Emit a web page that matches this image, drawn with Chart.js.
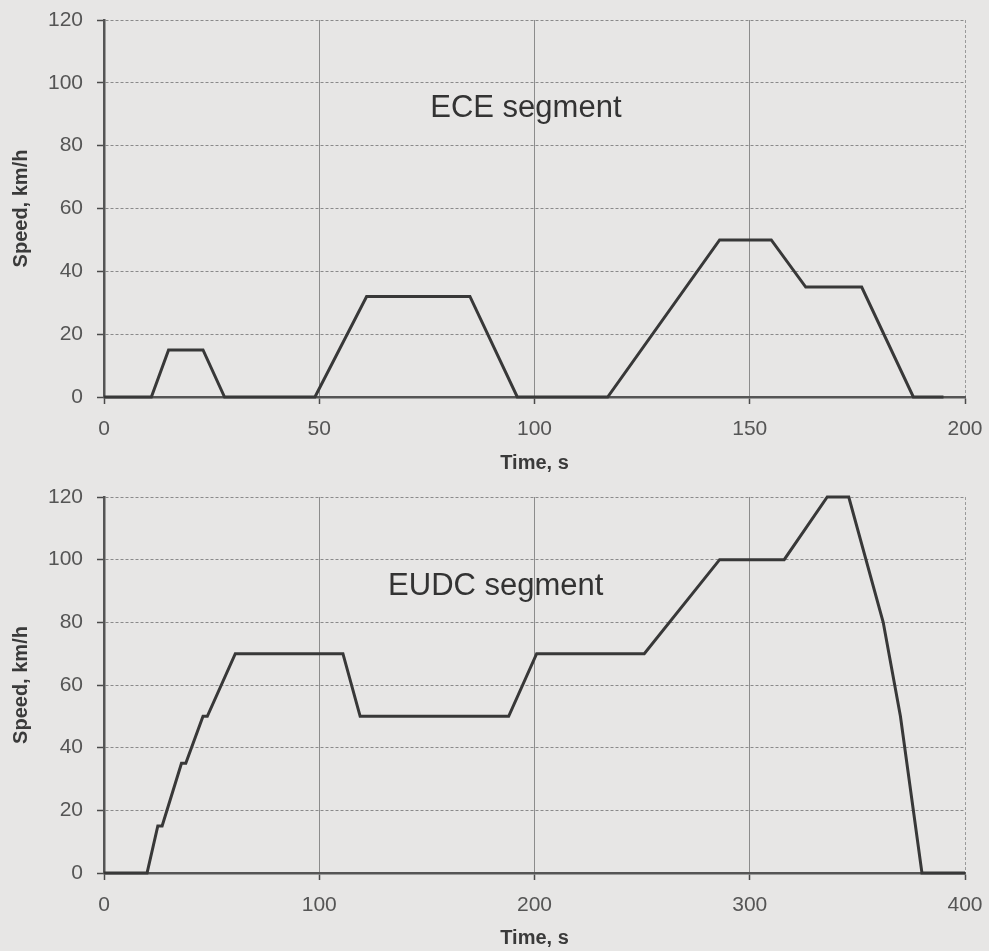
<!DOCTYPE html>
<html>
<head>
<meta charset="utf-8">
<script src="https://cdn.jsdelivr.net/npm/chart.js@4.4.1/dist/chart.umd.min.js"></script>
<style>
  html, body { margin: 0; padding: 0; background: #e7e6e5; }
  body { width: 989px; height: 951px; position: relative; overflow: hidden; }
  .panel { position: absolute; left: 0; width: 989px; }
  #p1 { top: 0; height: 475px; }
  #p2 { top: 475px; height: 476px; }
</style>
</head>
<body>
<div class="panel" id="p1"><canvas id="ece"></canvas></div>
<div class="panel" id="p2"><canvas id="eudc"></canvas></div>
<script>
// ECE urban driving segment: time (s) and speed (km/h) at each break point
const eceTime  = [0, 11, 15, 23, 28, 49, 61, 85, 96, 117, 143, 155, 163, 176, 188, 195];
const eceSpeed = [0,  0, 15, 15,  0,  0, 32, 32,  0,   0,  50,  50,  35,  35,   0,   0];

// EUDC extra-urban segment
const eudcTime  = [0, 20, 25, 27, 36, 38, 46, 48, 61, 111, 119, 188, 201, 251, 286, 316, 336, 346, 362, 370, 380, 400];
const eudcSpeed = [0,  0, 15, 15, 35, 35, 50, 50, 70,  70,  50,  50,  70,  70, 100, 100, 120, 120,  80,  50,   0,   0];

// Axis ticks
const eceTicksX  = [0, 50, 100, 150, 200];
const eudcTicksX = [0, 100, 200, 300, 400];
const speedTicks = [0, 20, 40, 60, 80, 100, 120];

const TICK_FONT  = { family: '"Liberation Sans", Arial, sans-serif', size: 21 };
const TITLE_FONT = { family: '"Liberation Sans", Arial, sans-serif', size: 20, weight: 'bold' };

// Writes the segment name inside the plot, placed in data units
const segmentLabel = {
  id: 'segmentLabel',
  afterDatasetsDraw(chart, args, opts) {
    const { ctx, scales } = chart;
    ctx.save();
    ctx.font = '31px "Liberation Sans", Arial, sans-serif';
    ctx.fillStyle = '#333333';
    ctx.textAlign = 'center';
    ctx.textBaseline = 'middle';
    ctx.fillText(opts.text, scales.x.getPixelForValue(opts.x), scales.y.getPixelForValue(opts.y));
    ctx.restore();
  }
};

// Fixed axis box sizes; label overflow is left to the layout padding
function fixBox(size, horizontal) {
  return s => {
    if (horizontal) s.height = size; else s.width = size;
    s.paddingTop = s.paddingBottom = s.paddingLeft = s.paddingRight = 0;
  };
}

function makeChart(id, times, speeds, ticksX, xMax, label, plotTop, xTitlePad) {
  const points = times.map((t, i) => ({ x: t, y: speeds[i] }));
  const lastX = ticksX[ticksX.length - 1];
  return new Chart(document.getElementById(id), {
    type: 'line',
    data: {
      datasets: [{
        data: points,
        borderColor: '#383838',
        borderWidth: 3,
        pointRadius: 0,
        tension: 0,
        fill: false,
        clip: 4
      }]
    },
    options: {
      responsive: true,
      maintainAspectRatio: false,
      animation: false,
      events: [],
      layout: { padding: { left: 0, right: 24, top: plotTop, bottom: 0 } },
      plugins: {
        legend: { display: false },
        tooltip: { enabled: false },
        segmentLabel: label
      },
      scales: {
        x: {
          type: 'linear',
          min: 0,
          max: xMax,
          afterBuildTicks: s => { s.ticks = ticksX.map(v => ({ value: v })); },
          afterFit: fixBox(78, true),
          ticks: { font: TICK_FONT, color: '#555555', padding: 13, maxRotation: 0 },
          grid: {
            color: c => (c.tick && c.tick.value === lastX) ? '#9a9a9a' : '#8c8c8c',
            lineWidth: 1,
            tickLength: 7,
            tickColor: '#4a4a4a',
            tickWidth: 1.5,
            tickBorderDash: []
          },
          border: {
            color: '#555555',
            width: 2.5,
            dash: c => (c.tick && c.tick.value === lastX) ? [3, 2] : []
          },
          title: { display: true, text: 'Time, s', font: TITLE_FONT, color: '#3a3a3a', padding: { top: 0, bottom: xTitlePad } }
        },
        y: {
          min: 0,
          max: 120,
          afterBuildTicks: s => { s.ticks = speedTicks.map(v => ({ value: v })); },
          afterFit: fixBox(104, false),
          ticks: { font: TICK_FONT, color: '#555555', padding: 14 },
          grid: {
            color: '#8a8a8a',
            lineWidth: 1,
            tickLength: 7,
            tickColor: '#4a4a4a',
            tickWidth: 1.5,
            tickBorderDash: []
          },
          border: { color: '#555555', width: 2.5, dash: [3, 2] },
          title: { display: true, text: 'Speed, km/h', font: TITLE_FONT, color: '#3a3a3a', padding: { top: 9, bottom: 0 } }
        }
      }
    },
    plugins: [segmentLabel]
  });
}

makeChart('ece', eceTime, eceSpeed, eceTicksX, 200, { text: 'ECE segment', x: 98, y: 92 }, 20, 0);
makeChart('eudc', eudcTime, eudcSpeed, eudcTicksX, 400, { text: 'EUDC segment', x: 182, y: 91.5 }, 22, 1);
</script>
</body>
</html>
